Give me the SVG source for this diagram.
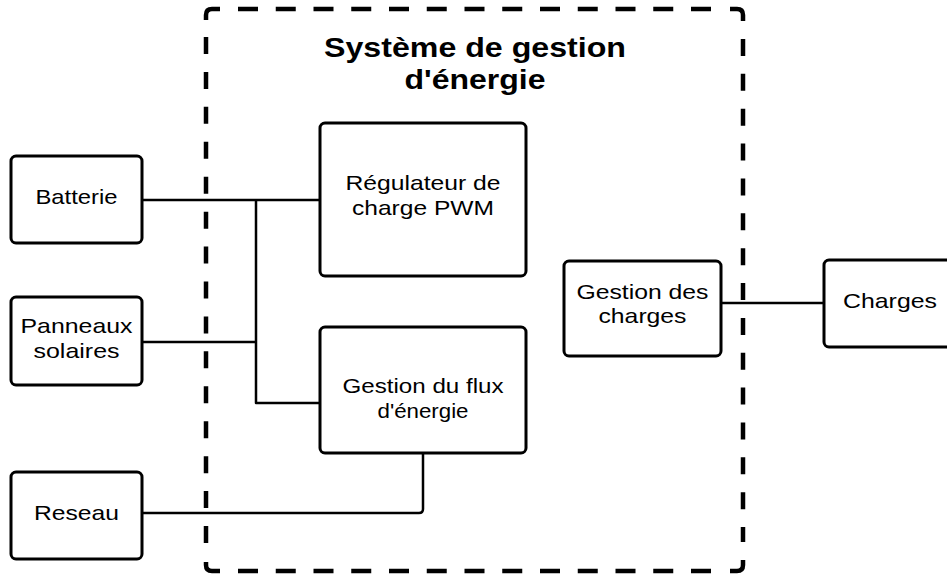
<svg xmlns="http://www.w3.org/2000/svg" width="947" height="575" viewBox="0 0 947 575">
<style>
.box{fill:#fff;stroke:#000;stroke-width:3}
.t{font-family:"Liberation Sans",Arial,sans-serif;font-size:21px;fill:#000;text-anchor:middle}
.title{font-family:"Liberation Sans",Arial,sans-serif;font-size:28px;font-weight:bold;fill:#000;text-anchor:middle}
.c{fill:none;stroke:#000;stroke-width:2.5;stroke-linejoin:round}
.d{fill:none;stroke:#000;stroke-width:4.5}
</style>
<rect width="947" height="575" fill="#fff"/>
<g id="system">
  <path class="d" d="M206,20 V15 Q206,9 212,9 H220"/>
  <path class="d" d="M730,9 H737 Q743,9 743,15 V21"/>
  <path class="d" d="M743,560 V565 Q743,571 737,571 H730"/>
  <path class="d" d="M220,571 H212 Q206,571 206,565 V562"/>
  <line class="d" x1="238" y1="9" x2="711" y2="9" stroke-dasharray="20 17.75"/>
  <line class="d" x1="238" y1="571" x2="711" y2="571" stroke-dasharray="20 17.75"/>
  <line class="d" x1="206" y1="37" x2="206" y2="543" stroke-dasharray="17 17.93"/>
  <line class="d" x1="743" y1="39" x2="743" y2="542" stroke-dasharray="17 17.86"/>
  <text class="title" x="475" y="57" textLength="302" lengthAdjust="spacingAndGlyphs">Système de gestion</text>
  <text class="title" x="475" y="89" textLength="141" lengthAdjust="spacingAndGlyphs">d'énergie</text>
</g>
<g id="connectors">
  <path class="c" d="M142,200 H320"/>
  <path class="c" d="M256,200 V403 H320"/>
  <path class="c" d="M142,342 H256"/>
  <path class="c" d="M142,513 H419 Q423,513 423,509 V453"/>
  <path class="c" d="M721,303 H824"/>
</g>
<g id="batterie">
  <rect class="box" x="11" y="156" width="131" height="87" rx="5"/>
  <text class="t" x="76.5" y="204" textLength="82" lengthAdjust="spacingAndGlyphs">Batterie</text>
</g>
<g id="panneaux">
  <rect class="box" x="11" y="297" width="131" height="88" rx="5"/>
  <text class="t" x="76.5" y="333" textLength="112" lengthAdjust="spacingAndGlyphs">Panneaux</text>
  <text class="t" x="76.5" y="358" textLength="86" lengthAdjust="spacingAndGlyphs">solaires</text>
</g>
<g id="reseau">
  <rect class="box" x="11" y="472" width="131" height="87" rx="5"/>
  <text class="t" x="76.5" y="520" textLength="85" lengthAdjust="spacingAndGlyphs">Reseau</text>
</g>
<g id="regulateur">
  <rect class="box" x="320" y="123" width="206" height="153" rx="5"/>
  <text class="t" x="423" y="190" textLength="155" lengthAdjust="spacingAndGlyphs">Régulateur de</text>
  <text class="t" x="423" y="215" textLength="142" lengthAdjust="spacingAndGlyphs">charge PWM</text>
</g>
<g id="flux">
  <rect class="box" x="320" y="327" width="206" height="126" rx="5"/>
  <text class="t" x="423" y="393" textLength="161" lengthAdjust="spacingAndGlyphs">Gestion du flux</text>
  <text class="t" x="423" y="418" textLength="91" lengthAdjust="spacingAndGlyphs">d'énergie</text>
</g>
<g id="gestion-charges">
  <rect class="box" x="564" y="261" width="157" height="95" rx="5"/>
  <text class="t" x="642.5" y="299" textLength="132" lengthAdjust="spacingAndGlyphs">Gestion des</text>
  <text class="t" x="642.5" y="323" textLength="88" lengthAdjust="spacingAndGlyphs">charges</text>
</g>
<g id="charges">
  <rect class="box" x="824" y="260" width="140" height="87" rx="5"/>
  <text class="t" x="890" y="308" textLength="94" lengthAdjust="spacingAndGlyphs">Charges</text>
</g>
</svg>
